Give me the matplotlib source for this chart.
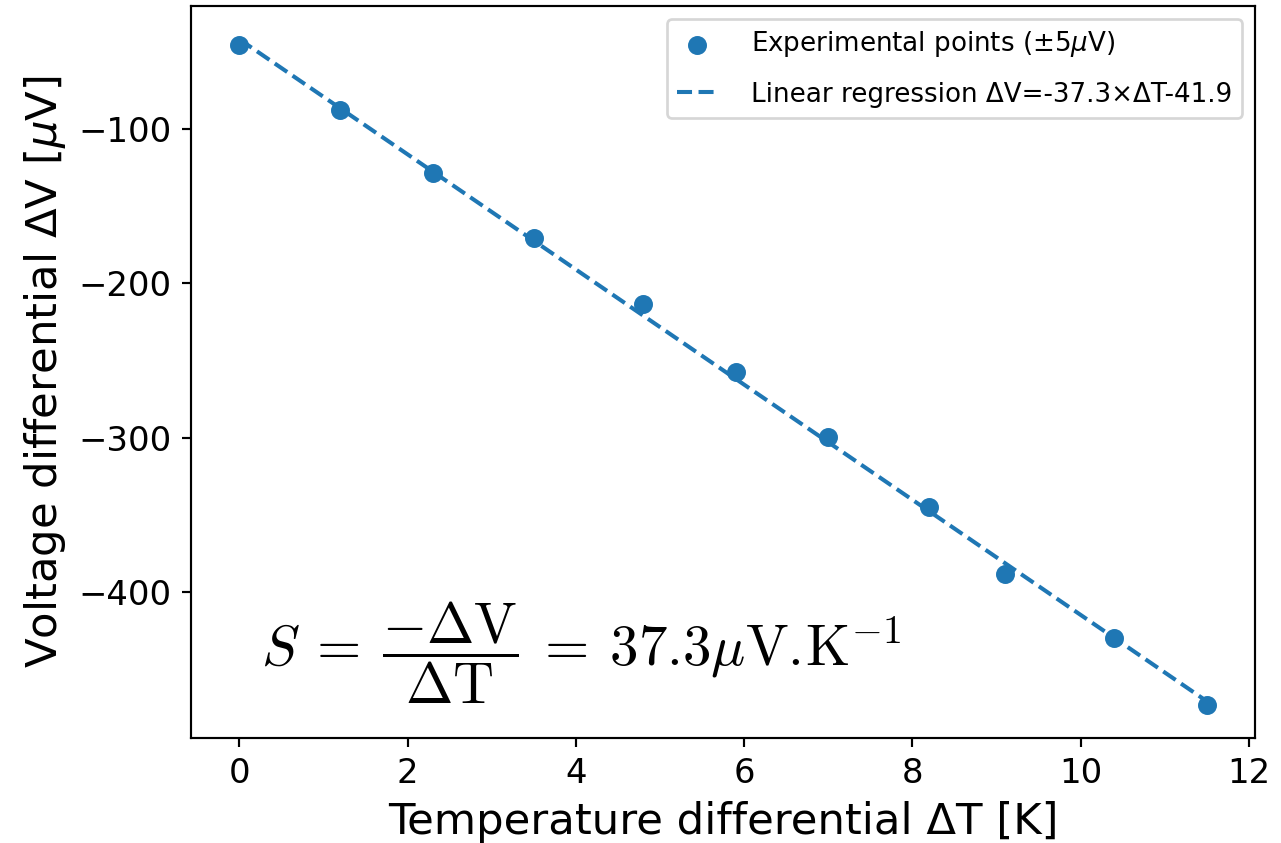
import matplotlib.pyplot as plt
import numpy as np

plt.rcParams['mathtext.fontset'] = 'dejavusans'

# Measured temperature differential (K) and voltage differential (uV)
delta_T = [0.0, 1.2, 2.3, 3.5, 4.8, 5.9, 7.0, 8.2, 9.1, 10.4, 11.5]
delta_V = [-45.7, -87.6, -128.7, -170.9, -213.2, -257.5, -299.7, -345.1, -388.3, -429.8, -473.0]

# Linear fit coefficients
slope = -37.3
intercept = -41.9

fig = plt.figure(figsize=(1281 / 195, 843 / 195), dpi=195)
ax = fig.add_axes([0.149, 0.1246, 0.831, 0.8684])

ax.scatter(delta_T, delta_V, label=r'Experimental points ($\pm5\mu$V)')
T = np.array(delta_T)
ax.plot(T, slope * T + intercept, '--',
        label='Linear regression ΔV=%.1f×ΔT-%.1f' % (slope, -intercept))

ax.set_xlabel('Temperature differential ΔT [K]', fontsize=16)
ax.set_ylabel(r'Voltage differential ΔV [$\mu$V]', fontsize=16)
ax.tick_params(labelsize=12.5)
ax.legend(loc='upper right', fontsize=9.65, handlelength=1.5,
          handletextpad=1.3, labelspacing=0.85)

ax.text(0.066, 0.117,
        r'$S\:=\:\dfrac{-\Delta\mathrm{V}}{\Delta\mathrm{T}}\:=\:37.3\mu\mathrm{V}.\!\mathrm{K}^{-1}$',
        transform=ax.transAxes, fontsize=21, va='center', ha='left',
        math_fontfamily='cm')

fig.savefig('out.png', dpi=195)
